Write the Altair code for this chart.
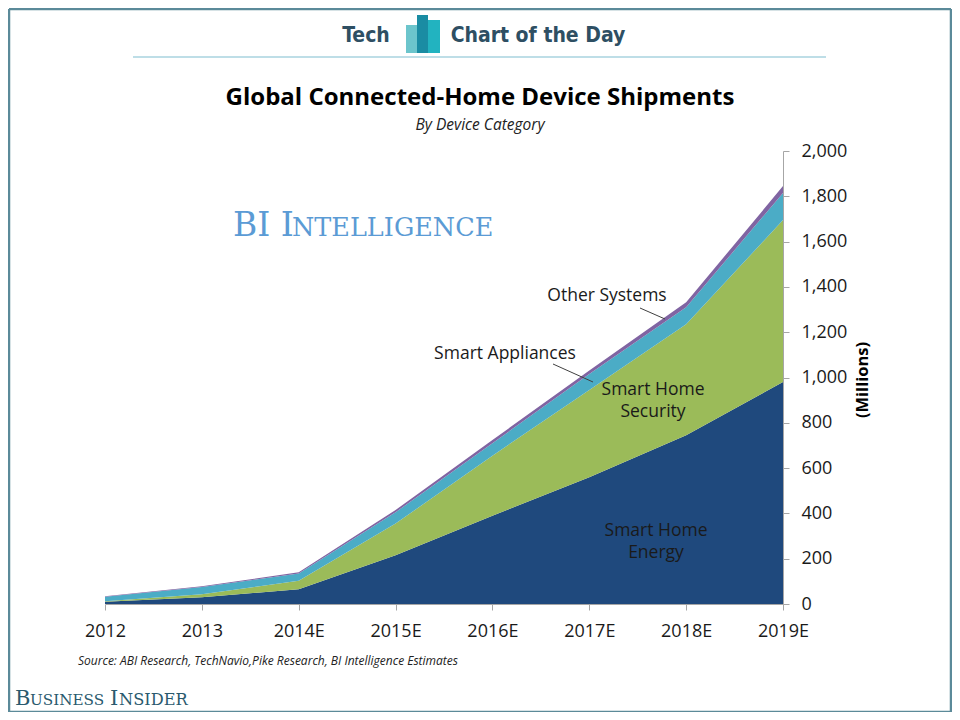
import json
import altair as alt
import pandas as pd

# ---------------- data ----------------
years = ["2012", "2013", "2014E", "2015E", "2016E", "2017E", "2018E", "2019E"]
energy = [10, 30, 65, 215, 390, 560, 745, 980]
security = [2, 13, 38, 140, 265, 385, 490, 715]
appliances = [20, 32, 32, 50, 55, 70, 75, 120]
other = [2, 3, 5, 10, 14, 16, 22, 30]
categories = ["Smart Home Energy", "Smart Home Security", "Smart Appliances", "Other Systems"]
colors = ["#1f497d", "#9bbb59", "#4bacc6", "#8064a2"]
y_ticks = list(range(0, 2001, 200))

rows = []
for ci, (cat, vals) in enumerate(zip(categories, [energy, security, appliances, other])):
    for i, (yr, v) in enumerate(zip(years, vals)):
        rows.append({"idx": i, "year": yr, "category": cat, "value": v, "ord": ci})
df = pd.DataFrame(rows)

# ---------------- layout helpers ----------------
OX, OY = 105, 151          # page position of plot origin
W, H = 678, 453            # plot area
PAD = {"left": OX - 8, "top": OY - 8, "right": 944 - (OX - 8) - W, "bottom": 704 - (OY - 8) - H}

one = alt.Data(values=[{"k": 1}])
COND = "'DejaVu Sans Condensed', 'Liberation Sans Narrow', 'Roboto', sans-serif"


def px(x):
    return x - OX


def py(y):
    return y - OY


def txt(text, x, y, size, color="#1a1a1a", font="Open Sans", weight="normal",
        style="normal", align="center", baseline="middle", angle=0):
    return alt.Chart(one).mark_text(
        text=text, fontSize=size, font=font, fontWeight=weight, fontStyle=style,
        color=color, align=align, baseline=baseline, angle=angle
    ).encode(x=alt.value(px(x)), y=alt.value(py(y)))


def rule(x1, y1, x2, y2, color, width):
    return alt.Chart(one).mark_rule(color=color, strokeWidth=width).encode(
        x=alt.value(px(x1)), x2=alt.value(px(x2)), y=alt.value(py(y1)), y2=alt.value(py(y2)))


def rect(x1, y1, x2, y2, fill):
    return alt.Chart(one).mark_rect(fill=fill).encode(
        x=alt.value(px(x1)), x2=alt.value(px(x2)), y=alt.value(py(y1)), y2=alt.value(py(y2)))


# ---------------- main area chart ----------------
label_expr = json.dumps(years) + "[datum.value]"

area = alt.Chart(df).mark_area(opacity=1).encode(
    x=alt.X("idx:Q", scale=alt.Scale(domain=[0, len(years) - 1], nice=False, zero=False),
            axis=alt.Axis(values=list(range(len(years))), labelExpr=label_expr, title=None,
                          grid=False, tickSize=6, labelPadding=12, labelFlush=False,
                          domainColor="#a6a6a6", tickColor="#a6a6a6")),
    y=alt.Y("value:Q", stack="zero", scale=alt.Scale(domain=[0, 2000], nice=False),
            axis=alt.Axis(orient="right", values=y_ticks, format=",.0f", title=None, grid=False,
                          tickSize=6, labelPadding=12, labelFlush=False,
                          domainColor="#a6a6a6", tickColor="#a6a6a6")),
    color=alt.Color("category:N", scale=alt.Scale(domain=categories, range=colors), legend=None),
    order=alt.Order("ord:Q"),
)

border_c = "#5b8a99"
layers = [
    # frame
    rule(9, 9, 951, 9, border_c, 2.5),
    rule(9, 712, 951, 712, border_c, 2.5),
    rule(9, 9, 9, 712, border_c, 2.5),
    rule(951, 9, 951, 712, border_c, 2.5),
    # header
    rule(133, 57, 826, 57, "#a9d3df", 1.5),
    txt("Tech", 366, 36, 21, color="#2e4f63", font=COND, weight="bold"),
    rect(406, 25, 417, 53, "#6cc5cc"),
    rect(417, 15, 428, 53, "#1a8ca3"),
    rect(428, 20, 440, 53, "#22b3c0"),
    txt("Chart of the Day", 538, 36, 21, color="#2e4f63", font=COND, weight="bold"),
    # titles
    txt("Global Connected-Home Device Shipments", 480, 98, 24, color="#000000", weight="bold"),
    txt("By Device Category", 480, 125, 15.5, color="#222222", style="italic"),
    # watermark
    txt("BI I", 233, 236, 33, color="#5b9bd5", font="DejaVu Serif", align="left", baseline="alphabetic"),
    txt("NTELLIGENCE", 292, 236, 25.5, color="#5b9bd5", font="DejaVu Serif", align="left", baseline="alphabetic"),
    # data area
    area,
    # annotations
    txt("Other Systems", 607, 296, 17.5),
    txt("Smart Appliances", 505, 354, 17.5),
    txt("Smart Home", 653, 390, 17.5),
    txt("Security", 653, 412, 17.5),
    txt("Smart Home", 656, 531, 17.5),
    txt("Energy", 656, 553, 17.5),
    rule(640, 308, 665, 319, "#404040", 1),
    rule(553, 364, 593, 382, "#404040", 1),
    # axis title
    txt("(Millions)", 863, 380, 16.5, color="#000000", weight="bold", angle=270),
    # source & branding
    txt("Source: ABI Research, TechNavio,Pike Research, BI Intelligence Estimates", 78, 661, 12,
        color="#222222", style="italic", align="left"),
    txt("B", 15, 705, 21, color="#2a5a6e", font="DejaVu Serif", align="left", baseline="alphabetic"),
    txt("USINESS", 30, 705, 15.2, color="#2a5a6e", font="DejaVu Serif", align="left", baseline="alphabetic"),
    txt("I", 110, 705, 21, color="#2a5a6e", font="DejaVu Serif", align="left", baseline="alphabetic"),
    txt("NSIDER", 119, 705, 16.2, color="#2a5a6e", font="DejaVu Serif", align="left", baseline="alphabetic"),
]

chart = alt.layer(*layers).properties(
    width=W, height=H,
    autosize=alt.AutoSizeParams(type="none"),
    padding=PAD,
    background="white",
).configure_view(stroke=None).configure_axis(
    labelFont="Open Sans", labelFontSize=18, labelColor="#1a1a1a"
)

chart.save("out.html", embed_options={"renderer": "svg", "actions": False})
